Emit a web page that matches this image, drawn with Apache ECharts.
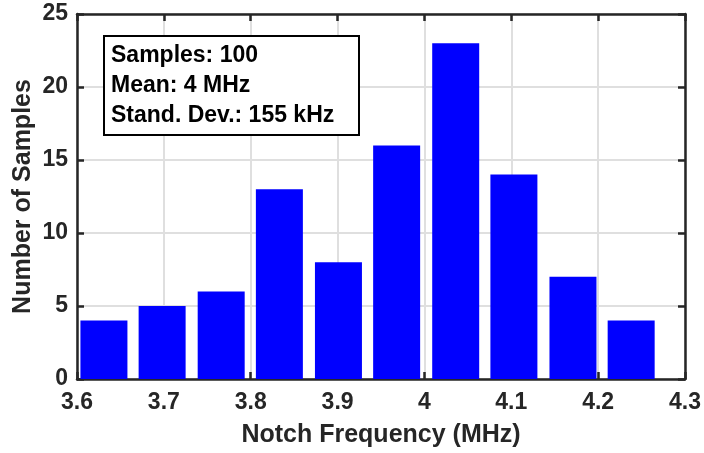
<!DOCTYPE html>
<html>
<head>
<meta charset="utf-8">
<script src="https://cdn.jsdelivr.net/npm/echarts@6/dist/echarts.min.js"></script>
<style>
  html, body { margin: 0; padding: 0; background: #fff; }
  #main { width: 704px; height: 453px; }
</style>
</head>
<body>
<div id="main"></div>
<script>
// bin centres (MHz) and counts
var binCenters = [3.631, 3.698, 3.766, 3.833, 3.901, 3.968, 4.036, 4.103, 4.171, 4.238];
var counts = [4, 5, 6, 13, 8, 16, 23, 14, 7, 4];
var statLines = ['Samples: 100', 'Mean: 4 MHz', 'Stand. Dev.: 155 kHz'];

var myChart = echarts.init(document.getElementById('main'));

var textColor = '#262626';
var fontFam = '"Liberation Sans", Arial, sans-serif';

var barData = binCenters.map(function (x, i) { return [x, counts[i]]; });

var statTexts = statLines.map(function (s, i) {
  return {
    type: 'text',
    left: 111,
    top: 44 + i * 30,
    z: 101,
    style: { text: s, fill: '#000', font: 'bold 23px ' + fontFam }
  };
});

var option = {
  animation: false,
  grid: { left: 77, right: 18, top: 14, bottom: 74, containLabel: false },
  xAxis: [{
    type: 'value',
    min: 3.6, max: 4.3, interval: 0.1,
    name: 'Notch Frequency (MHz)',
    nameLocation: 'middle',
    nameGap: 44,
    nameMoveOverlap: false,
    nameTextStyle: { color: textColor, fontSize: 25, fontWeight: 'bold', fontFamily: fontFam },
    axisLine: { onZero: false, lineStyle: { color: textColor, width: 2.5 } },
    axisTick: { inside: true, length: 7, lineStyle: { color: textColor, width: 2.5 } },
    axisLabel: { color: textColor, fontSize: 23, fontWeight: 'bold', fontFamily: fontFam, margin: 12,
      formatter: function (v) { return String(Math.round(v * 10) / 10); } },
    splitLine: { show: true, lineStyle: { color: '#dfdfdf', width: 2 } }
  }, {
    type: 'value', position: 'top',
    min: 3.6, max: 4.3, interval: 0.1,
    axisLine: { onZero: false, lineStyle: { color: textColor, width: 2.5 } },
    axisTick: { inside: true, length: 7, lineStyle: { color: textColor, width: 2.5 } },
    axisLabel: { show: false },
    splitLine: { show: false }
  }],
  yAxis: [{
    type: 'value',
    min: 0, max: 25, interval: 5,
    name: 'Number of Samples',
    nameLocation: 'middle',
    nameGap: 41,
    nameMoveOverlap: false,
    nameTextStyle: { color: textColor, fontSize: 25, fontWeight: 'bold', fontFamily: fontFam },
    axisLine: { show: true, onZero: false, lineStyle: { color: textColor, width: 2.5 } },
    axisTick: { show: true, inside: true, length: 7, lineStyle: { color: textColor, width: 2.5 } },
    axisLabel: { color: textColor, fontSize: 23, fontWeight: 'bold', fontFamily: fontFam, margin: 9 },
    splitLine: { show: true, lineStyle: { color: '#dfdfdf', width: 2 } }
  }, {
    type: 'value', position: 'right',
    min: 0, max: 25, interval: 5,
    axisLine: { show: true, onZero: false, lineStyle: { color: textColor, width: 2.5 } },
    axisTick: { show: true, inside: true, length: 7, lineStyle: { color: textColor, width: 2.5 } },
    axisLabel: { show: false },
    splitLine: { show: false }
  }],
  series: [{
    type: 'bar',
    xAxisIndex: 0,
    yAxisIndex: 0,
    data: barData,
    barWidth: 47,
    itemStyle: { color: '#0000ff' },
    z: 3
  }],
  graphic: [{
    type: 'rect',
    z: 100,
    shape: { x: 104, y: 36, width: 255, height: 99 },
    style: { fill: '#fff', stroke: '#000', lineWidth: 2 }
  }].concat(statTexts)
};

myChart.setOption(option);
</script>
</body>
</html>
